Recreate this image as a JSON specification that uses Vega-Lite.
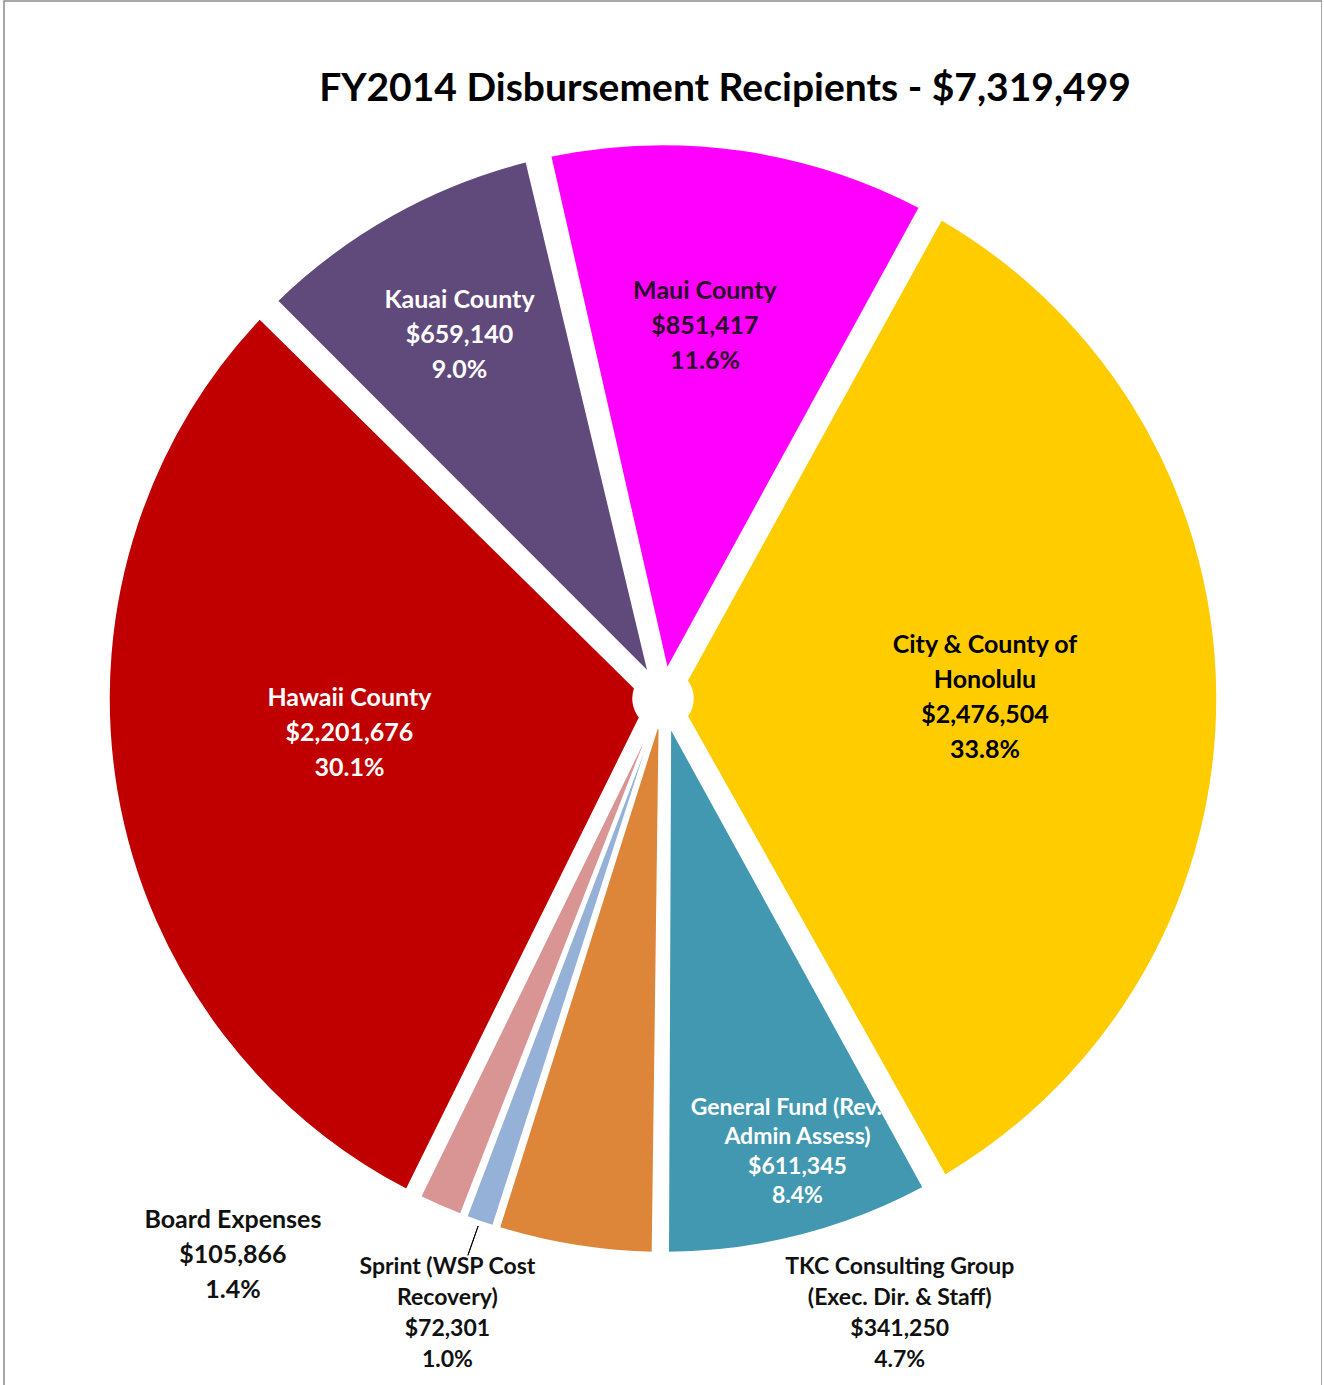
{
  "$schema": "https://vega.github.io/schema/vega-lite/v6.json",
  "width": 1318,
  "height": 1395,
  "autosize": {"type": "none"},
  "padding": {"left": 4, "top": 1, "right": 0, "bottom": 0},
  "background": "white",
  "view": {"stroke": "#8c8c8c", "strokeWidth": 1.5},
  "title": {
    "text": "FY2014 Disbursement Recipients - $7,319,499",
    "font": "Lato",
    "fontSize": 39,
    "fontWeight": "bold",
    "color": "#000000",
    "anchor": "middle",
    "frame": "group",
    "dx": 62,
    "offset": -114
  },
  "data": {
    "values": [
      {"order": 1, "id": "maui", "name": "Maui County", "amount": 851417, "label": "Maui County\n$851,417\n11.6%"},
      {"order": 2, "id": "honolulu", "name": "City & County of Honolulu", "amount": 2476504, "label": "City & County of\nHonolulu\n$2,476,504\n33.8%"},
      {"order": 3, "id": "gf", "name": "General Fund (Rev. & Admin Assess)", "amount": 611345, "label": "General Fund (Rev. &\nAdmin Assess)\n$611,345\n8.4%"},
      {"order": 4, "id": "tkc", "name": "TKC Consulting Group (Exec. Dir. & Staff)", "amount": 341250, "label": "TKC Consulting Group\n(Exec. Dir. & Staff)\n$341,250\n4.7%"},
      {"order": 5, "id": "sprint", "name": "Sprint (WSP Cost Recovery)", "amount": 72301, "label": "Sprint (WSP Cost\nRecovery)\n$72,301\n1.0%"},
      {"order": 6, "id": "board", "name": "Board Expenses", "amount": 105866, "label": "Board Expenses\n$105,866\n1.4%"},
      {"order": 7, "id": "hawaii", "name": "Hawaii County", "amount": 2201676, "label": "Hawaii County\n$2,201,676\n30.1%"},
      {"order": 8, "id": "kauai", "name": "Kauai County", "amount": 659140, "label": "Kauai County\n$659,140\n9.0%"}
    ]
  },
  "encoding": {
    "theta": {"field": "amount", "type": "quantitative", "stack": true, "scale": {"range": [-0.22689, 6.05629]}},
    "order": {"field": "order", "type": "quantitative", "sort": "ascending"}
  },
  "layer": [
    {
      "mark": {"type": "arc", "outerRadius": 554, "innerRadius": 30, "padAngle": 0.045, "stroke": "#ffffff", "strokeWidth": 1.5},
      "encoding": {
        "color": {
          "field": "name", "type": "nominal", "legend": null,
          "scale": {
            "domain": ["Maui County", "City & County of Honolulu", "General Fund (Rev. & Admin Assess)", "TKC Consulting Group (Exec. Dir. & Staff)", "Sprint (WSP Cost Recovery)", "Board Expenses", "Hawaii County", "Kauai County"],
            "range": ["#ff00ff", "#ffcc00", "#4298b0", "#dd8538", "#95b1d8", "#d99594", "#c00000", "#604a7b"]
          }
        },
        "opacity": {"condition": {"test": "datum.amount > 400000", "value": 1}, "value": 0}
      }
    },
    {
      "mark": {"type": "arc", "outerRadius": 554, "innerRadius": 30, "padAngle": 0.012, "stroke": "#ffffff", "strokeWidth": 1.5},
      "encoding": {
        "color": {"field": "name", "type": "nominal", "legend": null},
        "opacity": {"condition": {"test": "datum.amount < 400000", "value": 1}, "value": 0}
      }
    },
    {
      "mark": {"type": "arc", "innerRadius": 559, "outerRadius": 590, "padAngle": 3, "filled": false, "stroke": "#000000", "strokeWidth": 1},
      "encoding": {
        "strokeOpacity": {"condition": {"test": "datum.id === 'sprint'", "value": 1}, "value": 0}
      }
    },
    {
      "mark": {"type": "text", "radius": 376, "dx": -10, "dy": -35, "font": "Lato", "fontSize": 25, "fontWeight": "bold", "lineHeight": 35, "lineBreak": "\n", "align": "center", "baseline": "middle", "fill": "#2a0a2a"},
      "encoding": {"text": {"condition": {"test": "datum.id === 'maui'", "field": "label", "type": "nominal"}, "value": ""}}
    },
    {
      "mark": {"type": "text", "radius": 322, "dy": -52, "font": "Lato", "fontSize": 25, "fontWeight": "bold", "lineHeight": 35, "lineBreak": "\n", "align": "center", "baseline": "middle", "fill": "#000000"},
      "encoding": {"text": {"condition": {"test": "datum.id === 'honolulu'", "field": "label", "type": "nominal"}, "value": ""}}
    },
    {
      "mark": {"type": "text", "radius": 472, "dx": 18, "dy": -48, "font": "Lato", "fontSize": 23, "fontWeight": "bold", "lineHeight": 29.5, "lineBreak": "\n", "align": "center", "baseline": "middle", "fill": "#ffffff"},
      "encoding": {"text": {"condition": {"test": "datum.id === 'gf'", "field": "label", "type": "nominal"}, "value": ""}}
    },
    {
      "mark": {"type": "text", "radius": 625, "dx": 336, "dy": -49, "font": "Lato", "fontSize": 23, "fontWeight": "bold", "lineHeight": 31, "lineBreak": "\n", "align": "center", "baseline": "middle", "fill": "#111111"},
      "encoding": {"text": {"condition": {"test": "datum.id === 'tkc'", "field": "label", "type": "nominal"}, "value": ""}}
    },
    {
      "mark": {"type": "text", "radius": 652, "dy": -47, "font": "Lato", "fontSize": 23, "fontWeight": "bold", "lineHeight": 31, "lineBreak": "\n", "align": "center", "baseline": "middle", "fill": "#111111"},
      "encoding": {"text": {"condition": {"test": "datum.id === 'sprint'", "field": "label", "type": "nominal"}, "value": ""}}
    },
    {
      "mark": {"type": "text", "radius": 600, "dx": -189, "dy": -28, "font": "Lato", "fontSize": 25, "fontWeight": "bold", "lineHeight": 35, "lineBreak": "\n", "align": "center", "baseline": "middle", "fill": "#111111"},
      "encoding": {"text": {"condition": {"test": "datum.id === 'board'", "field": "label", "type": "nominal"}, "value": ""}}
    },
    {
      "mark": {"type": "text", "radius": 318, "dy": -53, "font": "Lato", "fontSize": 25, "fontWeight": "bold", "lineHeight": 35, "lineBreak": "\n", "align": "center", "baseline": "middle", "fill": "#ffffff"},
      "encoding": {"text": {"condition": {"test": "datum.id === 'hawaii'", "field": "label", "type": "nominal"}, "value": ""}}
    },
    {
      "mark": {"type": "text", "radius": 417, "dy": -35, "font": "Lato", "fontSize": 25, "fontWeight": "bold", "lineHeight": 35, "lineBreak": "\n", "align": "center", "baseline": "middle", "fill": "#ffffff"},
      "encoding": {"text": {"condition": {"test": "datum.id === 'kauai'", "field": "label", "type": "nominal"}, "value": ""}}
    }
  ]
}
